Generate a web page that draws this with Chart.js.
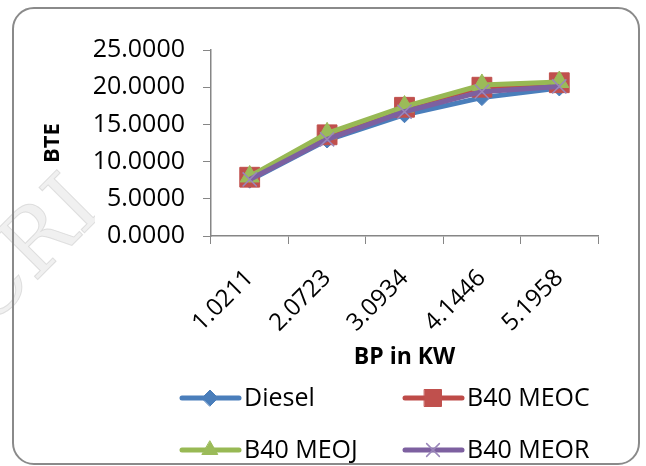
<!DOCTYPE html>
<html>
<head>
<meta charset="utf-8">
<title>BTE vs BP</title>
<script src="https://cdn.jsdelivr.net/npm/chart.js@4.4.0/dist/chart.umd.min.js"></script>
<style>
    html, body { margin: 0; padding: 0; background: #fff; }
    #wrap { position: relative; width: 646px; height: 466px; overflow: hidden; }
    #frame {
        position: absolute; left: 12px; top: 7px; width: 624px; height: 454px;
        border: 2px solid #8a8a8a; border-radius: 22px; pointer-events: none;
    }
    canvas { position: absolute; left: 0; top: 0; }
</style>
</head>
<body>
<div id="wrap">
    <canvas id="bteChart" width="646" height="466"></canvas>
    <div id="frame"></div>
</div>
<script>
// Categorias (BP em kW) e valores de BTE
const bpLabels = ['1.0211', '2.0723', '3.0934', '4.1446', '5.1958'];
const seriesNames = ['Diesel', 'B40 MEOC', 'B40 MEOJ', 'B40 MEOR'];
const dieselBTE = [7.5, 12.9, 16.3, 18.6, 19.9];
const meocBTE = [7.9, 13.6, 17.3, 20.0, 20.6];
const meojBTE = [8.0, 13.8, 17.4, 20.3, 20.7];
const meorBTE = [7.6, 13.0, 16.7, 19.4, 20.1];
const yTicks = [0, 5, 10, 15, 20, 25];

const FONT = "'Open Sans', 'Noto Sans', sans-serif";
const AXIS_GREY = '#868686';

/**
 * Monta um dataset de linha com marcador
 */
function makeSeries(label, data, line, marker, style, radius, order, markerBorder) {
    return {
        label: label,
        data: data,
        borderColor: line,
        backgroundColor: marker,
        pointBackgroundColor: marker,
        pointBorderColor: markerBorder || marker,
        pointBorderWidth: style === 'crossRot' ? 1.5 : 1,
        pointStyle: style,
        pointRadius: radius,
        pointHoverRadius: radius,
        borderWidth: 5,
        tension: 0,
        fill: false,
        order: order
    };
}

const datasets = [
    makeSeries(seriesNames[0], dieselBTE, '#4A7EBB', '#4A7EBB', 'rectRot', 8, 3),
    makeSeries(seriesNames[1], meocBTE, '#BE4B48', '#C0504D', 'rect', 14, 2),
    makeSeries(seriesNames[2], meojBTE, '#98B954', '#9BBB59', 'triangle', 11, 1),
    makeSeries(seriesNames[3], meorBTE, '#7D60A0', '#8064A2', 'crossRot', 10, 0, '#9A86BA')
];

// Tamanho dos marcadores na legenda (um pouco menores que no gráfico)
const legendRadius = { rectRot: 8, rect: 12, triangle: 9, crossRot: 9 };

// Legenda em duas colunas, no estilo do Excel (linha + marcador)
const excelLegend = {
    id: 'excelLegend',
    afterDraw: function(chart) {
        const ctx = chart.ctx;
        const slots = [
            { x: 182, y: 398 },
            { x: 405, y: 398 },
            { x: 182, y: 450 },
            { x: 405, y: 450 }
        ];
        chart.data.datasets.forEach(function(ds, i) {
            const s = slots[i];
            ctx.save();
            ctx.strokeStyle = ds.borderColor;
            ctx.lineWidth = 5;
            ctx.lineCap = 'round';
            ctx.beginPath();
            ctx.moveTo(s.x, s.y);
            ctx.lineTo(s.x + 57, s.y);
            ctx.stroke();
            ctx.fillStyle = ds.pointBackgroundColor;
            ctx.strokeStyle = ds.pointBorderColor;
            ctx.lineWidth = ds.pointBorderWidth;
            Chart.helpers.drawPoint(ctx, {
                pointStyle: ds.pointStyle,
                radius: legendRadius[ds.pointStyle],
                borderWidth: ds.pointBorderWidth,
                rotation: 0
            }, s.x + 28, s.y);
            ctx.fillStyle = '#000';
            ctx.font = '25px ' + FONT;
            ctx.textBaseline = 'middle';
            ctx.textAlign = 'left';
            ctx.fillText(ds.label, s.x + 62, s.y + 1);
            ctx.restore();
        });
    }
};

// Marca d'água clara à esquerda
const watermark = {
    id: 'watermark',
    beforeDraw: function(chart) {
        const ctx = chart.ctx;
        ctx.save();
        ctx.beginPath();
        ctx.rect(0, 150, 95, 200);
        ctx.clip();
        ctx.translate(30, 255);
        ctx.rotate(-Math.PI / 4);
        ctx.font = '88px "DejaVu Serif", "Liberation Serif", serif';
        ctx.fillStyle = 'rgba(236, 236, 236, 0.8)';
        ctx.strokeStyle = 'rgba(205, 205, 205, 0.6)';
        ctx.lineWidth = 1;
        ctx.textAlign = 'center';
        ctx.textBaseline = 'middle';
        ctx.fillText('CRI', 0, 0);
        ctx.strokeText('CRI', 0, 0);
        ctx.restore();
    }
};

const config = {
    type: 'line',
    data: {
        labels: bpLabels,
        datasets: datasets
    },
    options: {
        responsive: false,
        animation: false,
        layout: {
            padding: { left: 0, right: 48, top: 50, bottom: 95 }
        },
        plugins: {
            legend: { display: false },
            tooltip: { enabled: false }
        },
        scales: {
            x: {
                offset: true,
                afterFit: function(scale) { scale.height = 135; },
                grid: {
                    offset: true,
                    drawOnChartArea: false,
                    drawTicks: true,
                    tickLength: 8,
                    color: AXIS_GREY
                },
                border: { color: AXIS_GREY, width: 1.5 },
                ticks: {
                    color: '#000',
                    font: { family: FONT, size: 24 },
                    minRotation: 45,
                    maxRotation: 45,
                    padding: 20
                },
                title: {
                    display: true,
                    text: 'BP in KW',
                    color: '#000',
                    font: { family: FONT, size: 23, weight: 'bold' },
                    padding: { top: 0, bottom: 0 }
                }
            },
            y: {
                min: 0,
                max: 25,
                afterFit: function(scale) { scale.width = 211; },
                afterBuildTicks: function(axis) {
                    axis.ticks = yTicks.map(function(v) { return { value: v }; });
                },
                grid: {
                    drawOnChartArea: false,
                    drawTicks: true,
                    tickLength: 8,
                    color: AXIS_GREY
                },
                border: { color: AXIS_GREY, width: 1.5 },
                ticks: {
                    color: '#000',
                    font: { family: FONT, size: 25 },
                    padding: 18,
                    callback: function(value) { return Number(value).toFixed(4); }
                },
                title: {
                    display: true,
                    text: 'BTE',
                    color: '#000',
                    font: { family: FONT, size: 22, weight: 'bold' },
                    padding: { top: 40, bottom: 0 }
                }
            }
        }
    },
    plugins: [watermark, excelLegend]
};

new Chart(document.getElementById('bteChart'), config);
</script>
</body>
</html>
